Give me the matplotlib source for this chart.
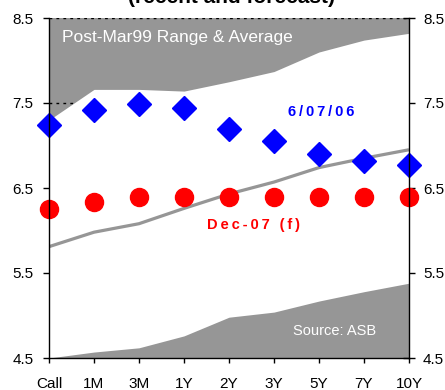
"""Yield curve: recent vs forecast, with post-Mar99 range and average."""
import matplotlib
import numpy as np

matplotlib.use("Agg")
from matplotlib import pyplot as plt

plt.rcParams["font.family"] = ["Liberation Sans", "DejaVu Sans"]

tenors = ["Call", "1M", "3M", "1Y", "2Y", "3Y", "5Y", "7Y", "10Y"]
recent = [7.24, 7.42, 7.49, 7.44, 7.19, 7.05, 6.90, 6.82, 6.77]
forecast = [6.25, 6.33, 6.40, 6.40, 6.40, 6.40, 6.40, 6.40, 6.40]
range_high = [7.30, 7.66, 7.66, 7.64, 7.75, 7.87, 8.10, 8.24, 8.32]
range_low = [4.50, 4.57, 4.62, 4.76, 4.98, 5.04, 5.17, 5.28, 5.38]
average = [5.81, 5.98, 6.08, 6.26, 6.43, 6.57, 6.74, 6.85, 6.95]

GREY = "#969696"
y_ticks = [4.5, 5.5, 6.5, 7.5, 8.5]
y_labels = [f"{v:.1f}" for v in y_ticks]


def spaced(text, gap="\u2009"):
    return gap.join(text)


fig = plt.figure(figsize=(4.45, 3.9), dpi=100)
ax = fig.add_axes([49 / 445, 32 / 390, 360 / 445, 340 / 390])
x = np.arange(len(tenors))

# grey background = range band edges; white fill between low and high
ax.set_facecolor(GREY)
for yv in (7.5, 8.5):
    ax.axhline(yv, color="black", linestyle=(0, (2, 3)), linewidth=1.0, zorder=1)
ax.fill_between(x, range_low, range_high, color="white", linewidth=0, zorder=2)
ax.plot(x, average, color=GREY, linewidth=2.3, zorder=3, solid_capstyle="butt")
ax.plot(x, recent, linestyle="none", marker="D", markersize=12.5, color="#0000ff", zorder=4, clip_on=False)
ax.plot(x, forecast, linestyle="none", marker="o", markersize=13, color="#ff0000", zorder=4, clip_on=False)

ax.set_xlim(0, len(tenors) - 1)
ax.set_ylim(4.5, 8.5)
ax.set_xticks(x)
ax.set_xticklabels(tenors)
ax.set_yticks(y_ticks)
ax.set_yticklabels(y_labels)
ax.tick_params(axis="both", labelsize=11, colors="black", width=1.0)
ax.tick_params(axis="x", length=3.6, direction="out", pad=10)
ax.tick_params(axis="y", length=4.3, direction="out", pad=7)

for side in ("top", "bottom"):
    ax.spines[side].set_visible(False)
for side in ("left", "right"):
    ax.spines[side].set_linewidth(1.0)
    ax.spines[side].set_zorder(5)
ax.axhline(4.5, color="black", linewidth=1.0, zorder=5, clip_on=False)

# right axis: ticks cross the spine, labels repeat the left scale
sec = ax.secondary_yaxis("right")
sec.set_yticks(y_ticks)
sec.set_yticklabels(y_labels)
sec.tick_params(direction="inout", length=8, width=1.0, labelsize=11, pad=6)
sec.spines["right"].set_visible(False)

ax.text(0.3, 8.27, "Post-Mar99 Range & Average", color="white", fontsize=12.5, va="center")
ax.text(7.27, 4.82, "Source: ASB", color="white", fontsize=10.5, va="center", ha="right")
ax.text(6.05, 7.39, spaced("6/07/06"), color="#0000ff", fontsize=10.5, fontweight="bold",
        ha="center", va="center")
ax.text(4.55, 6.07, spaced("Dec-07 (f)"), color="#ff0000", fontsize=10.5, fontweight="bold",
        ha="center", va="center")

fig.text(231 / 445, 1 - 3 / 390, "(recent and forecast)", fontsize=15, fontweight="bold",
         ha="center", va="baseline")

fig.savefig("out.png", dpi=100)
